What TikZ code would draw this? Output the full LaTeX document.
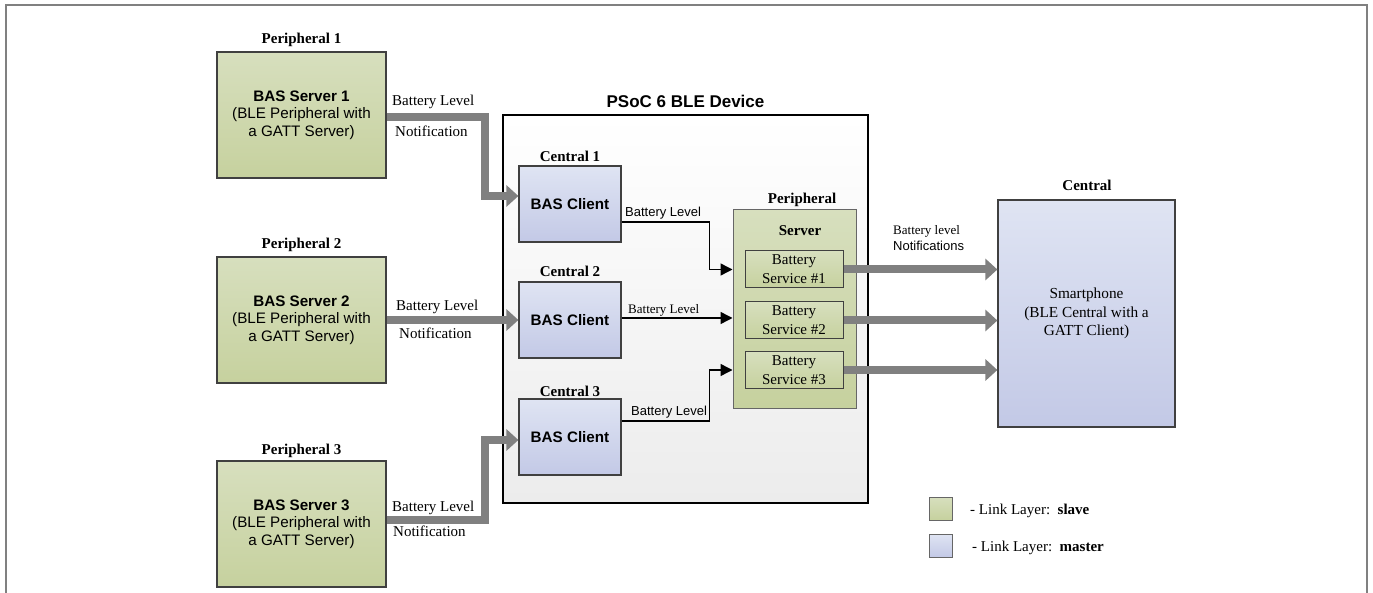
\documentclass[tikz,border=0pt]{standalone}
\usepackage{fontspec}
\setmainfont{Liberation Serif}
\newfontfamily\arial{Liberation Sans}
\usetikzlibrary{arrows.meta,calc}
\definecolor{gfillT}{RGB}{215,223,190}
\definecolor{gfillB}{RGB}{198,209,158}
\definecolor{bfillT}{RGB}{223,228,243}
\definecolor{bfillB}{RGB}{195,201,230}
\definecolor{edgecol}{RGB}{64,64,64}
\definecolor{pipecol}{RGB}{128,128,128}
\definecolor{devbot}{RGB}{236,236,236}
\begin{document}
\begin{tikzpicture}[x=1pt,y=-1pt,
  greenbox/.style={draw=edgecol, line width=1.2pt, top color=gfillT, bottom color=gfillB, inner sep=0pt, align=center},
  bluebox/.style={draw=edgecol, line width=1.2pt, top color=bfillT, bottom color=bfillB, inner sep=0pt, align=center},
  pbox/.style={greenbox, minimum width=169pt, minimum height=126pt, font={\arial\fontsize{15.2}{17.5}\selectfont}},
  cbox/.style={bluebox, minimum width=102pt, minimum height=76pt, font={\arial\bfseries\fontsize{15.2}{18}\selectfont}},
  svcbox/.style={greenbox, line width=1pt, minimum width=98pt, minimum height=37pt, font={\fontsize{15}{19}\selectfont}},
  head/.style={font={\bfseries\fontsize{15}{18}\selectfont}, inner sep=0pt},
  lbl/.style={font={\fontsize{15}{18}\selectfont}, inner sep=0pt, anchor=west},
  slbl/.style={font={\fontsize{13}{15}\selectfont}, inner sep=0pt, anchor=west},
  sslbl/.style={font={\arial\fontsize{13}{15}\selectfont}, inner sep=0pt, anchor=west},
  legtxt/.style={font={\fontsize{15}{17}\selectfont}, inner sep=0pt, anchor=west},
  pipe/.style={draw=pipecol, line width=8pt, line join=miter, -{Triangle[length=12pt,width=21pt]}},
  blk/.style={draw=black, line width=1.4pt, line join=miter, -{Triangle[length=12pt,width=12pt]}}
]
\useasboundingbox (0,0) rectangle (1373,593);
% outer frame
\draw[pipecol, line width=2pt] (6,593) -- (6,5) -- (1367,5) -- (1367,593);

% peripherals
\node[pbox] (p1) at (301.5,115) {\textbf{BAS Server 1}\\(BLE Peripheral with\\a GATT Server)};
\node[pbox] (p2) at (301.5,320) {\textbf{BAS Server 2}\\(BLE Peripheral with\\a GATT Server)};
\node[pbox] (p3) at (301.5,524) {\textbf{BAS Server 3}\\(BLE Peripheral with\\a GATT Server)};
\node[head] (p1h) at (301.5,40) {Peripheral 1};
\node[head] (p2h) at (301.5,245) {Peripheral 2};
\node[head] (p3h) at (301.5,451) {Peripheral 3};

% PSoC device
\node[draw=black, line width=1.5pt, top color=white, bottom color=devbot, minimum width=365pt, minimum height=388pt, inner sep=0pt] (dev) at (685.5,309) {};
\node[font={\arial\bfseries\fontsize{17}{20}\selectfont}, inner sep=0pt] (devh) at (685.5,101) {PSoC 6 BLE Device};

% clients
\node[cbox] (c1) at (570,204) {BAS Client};
\node[cbox] (c2) at (570,320) {BAS Client};
\node[cbox] (c3) at (570,437) {BAS Client};
\node[head] (c1h) at (570,156) {Central 1};
\node[head] (c2h) at (570,271) {Central 2};
\node[head] (c3h) at (570,391) {Central 3};

% server
\node[greenbox, draw=edgecol!80, line width=1pt, minimum width=123pt, minimum height=198pt] (srv) at (794.5,309) {};
\node[head] (srvh) at (802,200) {Peripheral};
\node[head] (srvt) at (800,231) {Server};
\node[svcbox] (bs1) at (794,269.5) {Battery\\Service \#1};
\node[svcbox] (bs2) at (794,320.5) {Battery\\Service \#2};
\node[svcbox] (bs3) at (794,370) {Battery\\Service \#3};

% smartphone
\node[bluebox, minimum width=177pt, minimum height=227pt, font={\fontsize{15.3}{18.5}\selectfont}] (ph) at (1086.5,313.5) {Smartphone\\(BLE Central with a\\GATT Client)};
\node[head] (phh) at (1087,185) {Central};

% thick pipes from peripherals
\draw[pipe] ($(p1.east)+(0,2)$) -- ++(98,0) |- ($(c1.west)+(0,-8)$);
\draw[pipe] (p2.east) -- (c2.west);
\draw[pipe] ($(p3.east)+(0,-4)$) -- ++(98,0) |- ($(c3.west)+(0,3)$);
\node[lbl] (l1a) at (392,102) {Battery Level};
\node[lbl] (l1b) at (395,131) {Notification};
\node[lbl] (l2a) at (396,307) {Battery Level};
\node[lbl] (l2b) at (399,333) {Notification};
\node[lbl] (l3a) at (392,508) {Battery Level};
\node[lbl] (l3b) at (393,531) {Notification};

% black arrows clients -> server
\draw[blk] ($(c1.east)+(0,18)$) -- ++(88,0) |- (srv.west |- bs1);
\draw[blk] ($(c2.east)+(0,-2)$) -- ($(srv.west |- c2.east)+(0,-2)$);
\draw[blk] ($(c3.east)+(0,-16)$) -- ++(88,0) |- (srv.west |- bs3);
\node[sslbl] (b1) at (625,213) {Battery Level};
\node[slbl] (b2) at (628,310) {Battery Level};
\node[sslbl] (b3) at (631,412) {Battery Level};

% pipes to smartphone
\draw[pipe] (bs1.east) -- (ph.west |- bs1);
\draw[pipe] (bs2.east) -- (ph.west |- bs2);
\draw[pipe] (bs3.east) -- (ph.west |- bs3);
\node[slbl] (n1) at (893,231) {Battery level};
\node[sslbl] (n2) at (893,246) {Notifications};

% legend
\node[greenbox, line width=1pt, draw=edgecol!80, minimum width=23pt, minimum height=23pt] (lg1) at (940.5,508.5) {};
\node[bluebox, line width=1pt, draw=edgecol!80, minimum width=23pt, minimum height=23pt] (lg2) at (940.5,545.5) {};
\node[legtxt] (lt1) at (970,511) {- Link Layer:~~\textbf{slave}};
\node[legtxt] (lt2) at (972,548) {- Link Layer:~~\textbf{master}};
\end{tikzpicture}
\end{document}
